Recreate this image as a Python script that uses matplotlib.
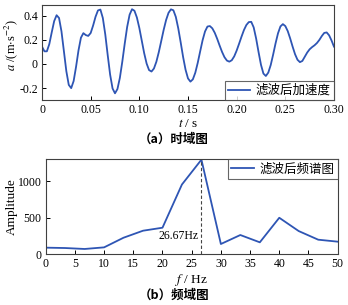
import numpy as np
import matplotlib
matplotlib.use('Agg')
import matplotlib.pyplot as plt

plt.rcParams['font.family'] = ['Liberation Serif', 'Noto Sans CJK SC']
plt.rcParams['mathtext.fontset'] = 'stix'
plt.rcParams['axes.unicode_minus'] = False

# time signal, read every 0.0025 s from the picture
t = np.arange(121) * 0.0025
acc = [0.144, 0.105, 0.105, 0.165, 0.263, 0.356, 0.405, 0.382, 0.271, 0.106,
       -0.060, -0.174, -0.201, -0.142, -0.023, 0.113, 0.218, 0.256, 0.240, 0.233,
       0.257, 0.319, 0.392, 0.445, 0.452, 0.382, 0.246, 0.074, -0.089, -0.204,
       -0.244, -0.209, -0.116, 0.019, 0.169, 0.308, 0.409, 0.455, 0.442, 0.386,
       0.299, 0.194, 0.089, 0.003, -0.051, -0.063, -0.038, 0.018, 0.098, 0.190,
       0.283, 0.365, 0.425, 0.454, 0.446, 0.391, 0.296, 0.179, 0.057, -0.048,
       -0.120, -0.147, -0.128, -0.073, 0.009, 0.104, 0.197, 0.270, 0.311, 0.315,
       0.296, 0.259, 0.209, 0.153, 0.100, 0.056, 0.028, 0.019, 0.031, 0.063,
       0.111, 0.168, 0.227, 0.282, 0.324, 0.348, 0.350, 0.304, 0.212, 0.099,
       -0.007, -0.080, -0.100, -0.072, -0.009, 0.078, 0.172, 0.255, 0.312, 0.331,
       0.315, 0.273, 0.212, 0.144, 0.081, 0.035, 0.015, 0.025, 0.060, 0.095,
       0.122, 0.140, 0.155, 0.174, 0.200, 0.232, 0.258, 0.262, 0.238, 0.195,
       0.144]

# spectrum
freq = [0, 3.33, 6.67, 10, 13.33, 16.67, 20, 23.33, 26.67, 30, 33.33, 36.67,
        40, 43.33, 46.67, 50]
amp = [91, 86, 73, 95, 227, 323, 364, 955, 1295, 141, 264, 164, 500, 318, 200, 173]
peak_f = 26.67

blue = '#2E55B4'
edge = '#404040'

fig = plt.figure(figsize=(3.48, 3.05), dpi=100)

# time domain
ax1 = fig.add_axes([0.1207, 0.672, 0.839, 0.3116])
ax1.plot(t, acc, color=blue, lw=1.3, label='滤波后加速度')
ax1.set_xlim(0, 0.30)
ax1.set_ylim(-0.3, 0.49)
ax1.set_xticks([0, 0.05, 0.10, 0.15, 0.20, 0.25, 0.30])
ax1.set_xticklabels(['0', '0.05', '0.10', '0.15', '0.20', '0.25', '0.30'])
ax1.set_yticks([-0.2, 0, 0.2, 0.4])
ax1.set_yticklabels(['-0.2', '0', '0.2', '0.4'])
ax1.set_xlabel('$t$ / s', fontsize=9.5, labelpad=1)
ax1.set_ylabel(r'$a$ /(m$\cdot$s$^{-2}$)', fontsize=9)
ax1.yaxis.set_label_coords(-0.075, 0.58)
leg1 = ax1.legend(loc='lower right', frameon=True, fancybox=False,
                  borderaxespad=0, borderpad=0.25, handlelength=1.8,
                  handletextpad=0.45, prop={'family': ['Noto Sans CJK SC'], 'size': 9})
leg1.get_frame().set_edgecolor(edge)
leg1.get_frame().set_linewidth(0.8)

# frequency domain
ax2 = fig.add_axes([0.1313, 0.1662, 0.839, 0.3115])
ax2.plot(freq, amp, color=blue, lw=1.3, label='滤波后频谱图')
ax2.plot([peak_f, peak_f], [0, max(amp)], color='#444444', lw=0.8, ls=(0, (3, 2)))
ax2.text(peak_f - 0.4, 253, '26.67Hz', fontsize=8.5, ha='right', va='center')
ax2.set_xlim(0, 50)
ax2.set_ylim(0, 1300)
ax2.set_xticks(range(0, 51, 5))
ax2.set_yticks([0, 500, 1000])
ax2.set_xlabel('$f$ / Hz', fontsize=9.5, labelpad=1)
ax2.set_ylabel('Amplitude', fontsize=9.5)
ax2.yaxis.set_label_coords(-0.095, 0.5)
leg2 = ax2.legend(loc='upper right', frameon=True, fancybox=False,
                  borderaxespad=0, borderpad=0.25, handlelength=1.8,
                  handletextpad=0.45, prop={'family': ['Noto Sans CJK SC'], 'size': 9})
leg2.get_frame().set_edgecolor(edge)
leg2.get_frame().set_linewidth(0.8)

for ax in (ax1, ax2):
    ax.tick_params(direction='in', length=3, width=0.7, labelsize=8.5, pad=3,
                   colors='black')
    for s in ax.spines.values():
        s.set_color(edge)
        s.set_linewidth(0.8)

fig.text(0.5, 1 - 139 / 305, '（a）时域图', ha='center', va='center', fontsize=9,
         family=['Noto Sans CJK SC'], weight='bold')
fig.text(0.5, 1 - 295 / 305, '（b）频域图', ha='center', va='center', fontsize=9,
         family=['Noto Sans CJK SC'], weight='bold')

fig.savefig('out.png', dpi=100)
